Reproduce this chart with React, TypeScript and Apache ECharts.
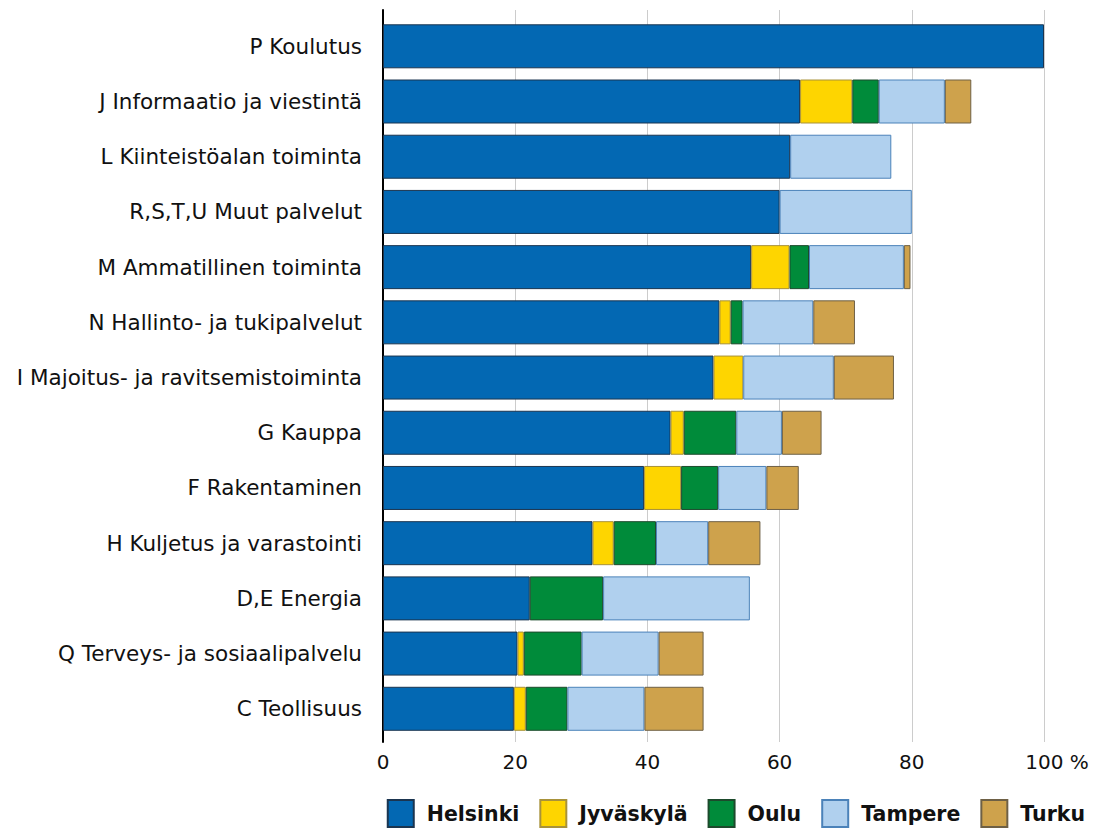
import React, { useEffect, useRef } from "react";
import * as echarts from "echarts";

const categories = [
  "P Koulutus",
  "J Informaatio ja viestintä",
  "L Kiinteistöalan toiminta",
  "R,S,T,U Muut palvelut",
  "M Ammatillinen toiminta",
  "N Hallinto- ja tukipalvelut",
  "I Majoitus- ja ravitsemistoiminta",
  "G Kauppa",
  "F Rakentaminen",
  "H Kuljetus ja varastointi",
  "D,E Energia",
  "Q Terveys- ja sosiaalipalvelu",
  "C Teollisuus",
];

const helsinki = [100, 63.1, 61.6, 60, 55.7, 50.9, 50.0, 43.5, 39.5, 31.7, 22.2, 20.35, 19.8];
const jyvaskyla = [null, 7.9, null, null, 5.8, 1.7, 4.5, 2.0, 5.6, 3.2, null, 0.95, 1.8];
const oulu = [null, 4.0, null, null, 2.95, 1.8, null, 7.95, 5.6, 6.4, 11.1, 8.75, 6.3];
const tampere = [null, 10.0, 15.3, 20, 14.35, 10.7, 13.7, 6.9, 7.3, 7.9, 22.2, 11.65, 11.65];
const turku = [null, 4.0, null, null, 1.0, 6.3, 9.1, 6.0, 4.9, 7.9, null, 6.8, 8.95];

const seriesDefs = [
  { name: "Helsinki", data: helsinki, color: "#0368b3", border: "#1b3550" },
  { name: "Jyväskylä", data: jyvaskyla, color: "#fed500", border: "#a8923a" },
  { name: "Oulu", data: oulu, color: "#008b3a", border: "#1d4a2c" },
  { name: "Tampere", data: tampere, color: "#b0d0ee", border: "#4b82b9" },
  { name: "Turku", data: turku, color: "#cea24c", border: "#6e6045" },
];

const FONT = "DejaVu Sans";

export default function App() {
  const ref = useRef<HTMLDivElement>(null);
  useEffect(() => {
    if (!ref.current) return;
    const chart = echarts.init(ref.current, null, { renderer: "svg" });
    chart.setOption({
      animation: false,
      textStyle: { fontFamily: FONT },
      grid: [
        { left: 383, right: 53, top: 10, bottom: 86 },
        { left: 383, right: 53, top: 18.7, height: 717.7 },
      ],
      xAxis: [
        {
          gridIndex: 0,
          type: "value",
          min: 0,
          max: 100,
          interval: 20,
          axisLine: { show: false },
          axisTick: { show: false },
          splitLine: { show: true, lineStyle: { color: "#cccccc", width: 1 } },
          axisLabel: {
            margin: 10,
            fontSize: 20,
            color: "#111",
            fontFamily: FONT,
            formatter: (v: number) => (v === 100 ? "{pad|}100 %" : String(v)),
            rich: { pad: { width: 26 } },
          },
        },
        {
          gridIndex: 1,
          type: "value",
          min: 0,
          max: 100,
          show: false,
        },
      ],
      yAxis: [
        {
          gridIndex: 0,
          type: "value",
          min: 0,
          max: 1,
          axisLine: { show: true, lineStyle: { color: "#000", width: 2 } },
          axisTick: { show: false },
          axisLabel: { show: false },
          splitLine: { show: false },
        },
        {
          gridIndex: 1,
          type: "category",
          inverse: true,
          data: categories,
          axisLine: { show: false },
          axisTick: { show: false },
          axisLabel: {
            margin: 21,
            fontSize: 21.5,
            color: "#111",
            fontFamily: FONT,
          },
        },
      ],
      legend: {
        right: 12,
        top: 799,
        padding: 0,
        itemWidth: 26,
        itemHeight: 27,
        itemGap: 20,
        icon: "rect",
        textStyle: { fontSize: 20.5, fontWeight: "bold", color: "#111", fontFamily: FONT, padding: [0, 0, 0, 8] },
        data: seriesDefs.map((s) => s.name),
      },
      series: seriesDefs.map((s) => ({
        name: s.name,
        type: "bar",
        stack: "total",
        xAxisIndex: 1,
        yAxisIndex: 1,
        barWidth: 44,
        data: s.data,
        itemStyle: { color: s.color, borderColor: s.border, borderWidth: 1 },
      })),
    });
    return () => chart.dispose();
  }, []);
  return <div ref={ref} style={{ width: 1097, height: 828, position: "absolute", left: 0, top: 0 }} />;
}
